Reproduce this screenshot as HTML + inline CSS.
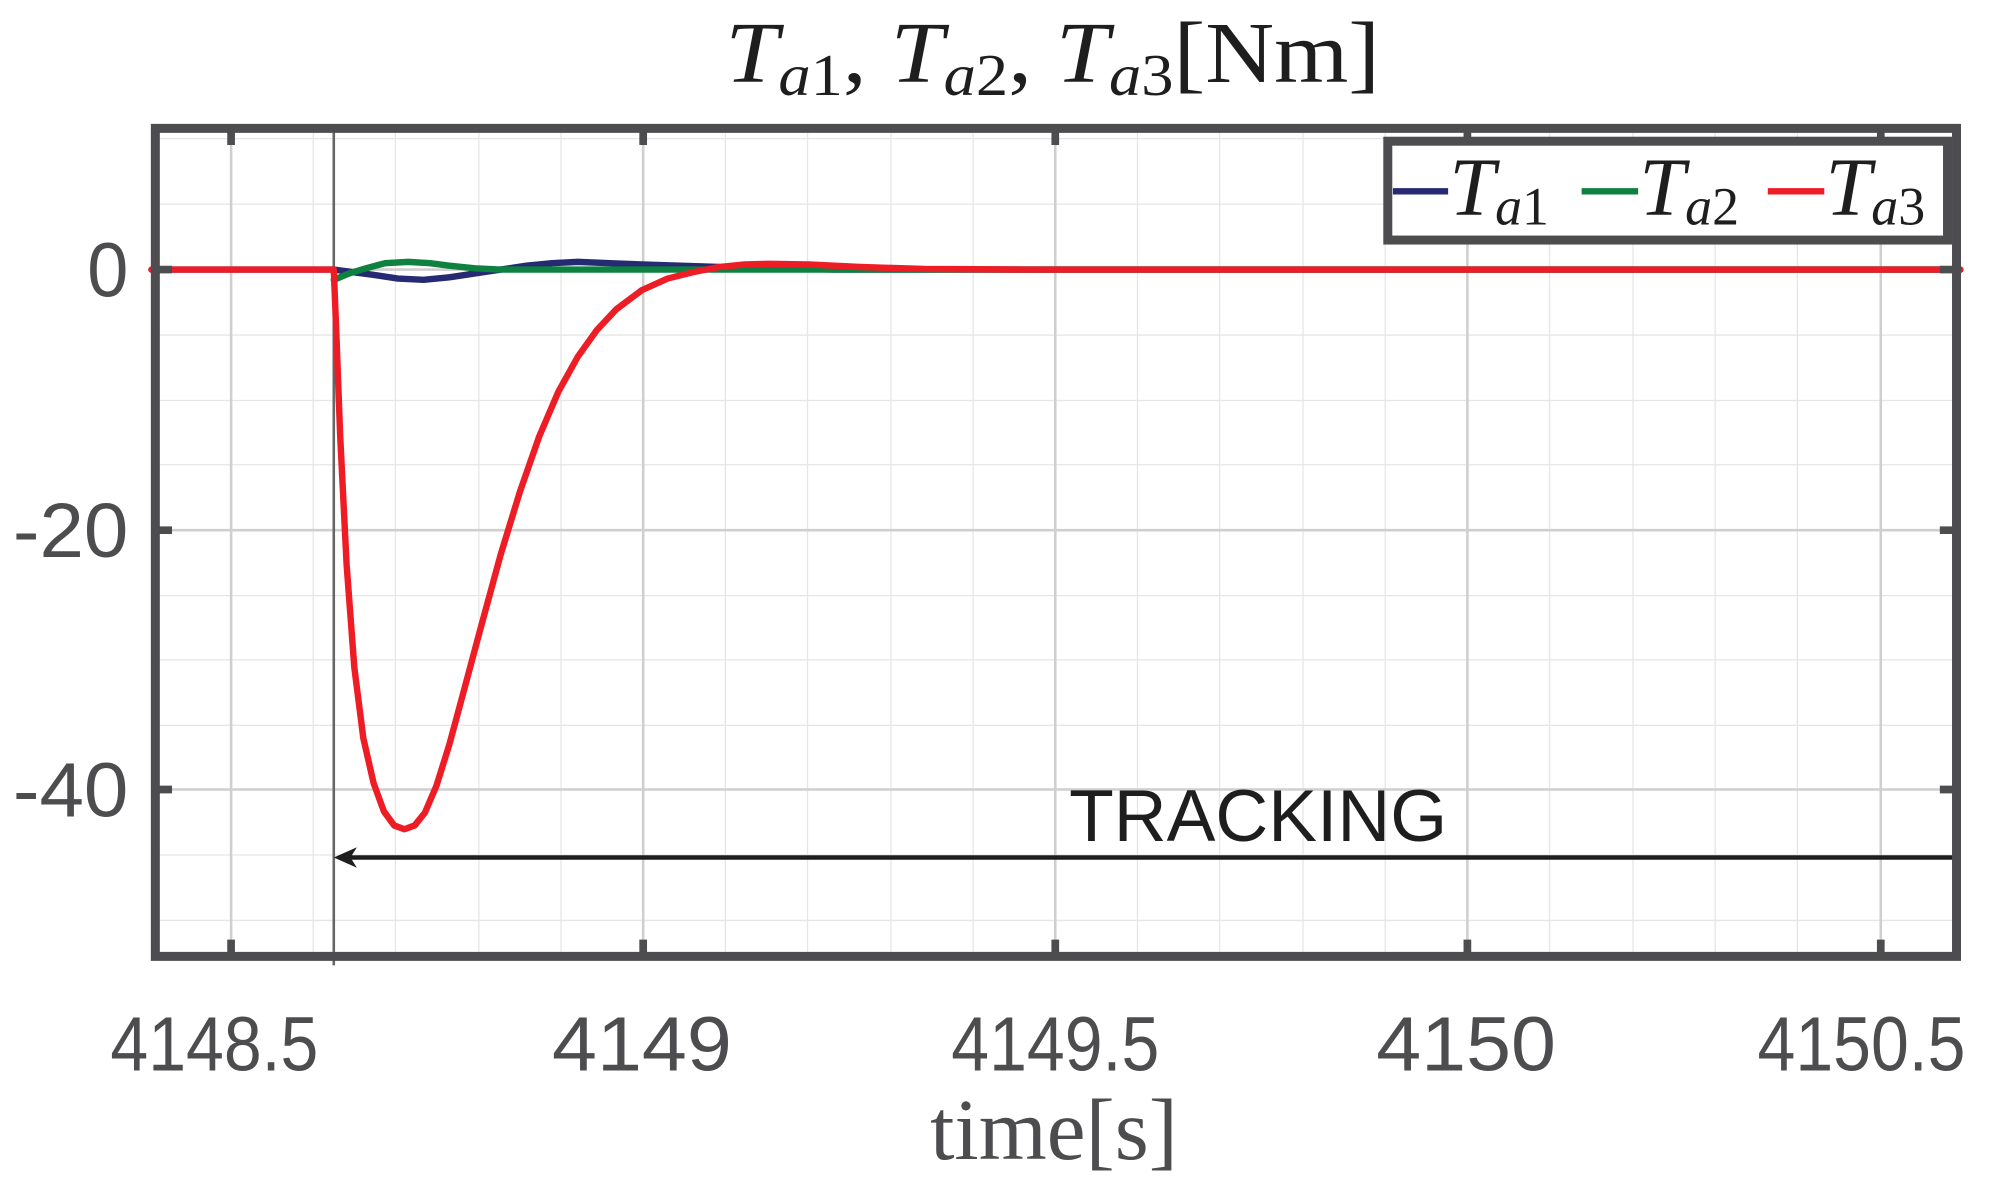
<!DOCTYPE html>
<html><head><meta charset="utf-8"><style>
html,body{margin:0;padding:0;background:#fff;}
svg{display:block;}
</style></head><body>
<svg width="2013" height="1199" viewBox="0 0 1568 934" preserveAspectRatio="none" xmlns="http://www.w3.org/2000/svg">
<rect width="1568" height="934" fill="#fff"/>
<g stroke="#e6e6e6" stroke-width="1">
<path d="M244,97V748M308,97V748M373,97V748M437,97V748M565,97V748M629,97V748M694,97V748M758,97V748M886,97V748M950,97V748M1015,97V748M1079,97V748M1207,97V748M1272,97V748M1336,97V748M1400,97V748"/>
<path d="M118,108H1527M118,159H1527M118,261H1527M118,312H1527M118,362H1527M118,464H1527M118,514H1527M118,565H1527M118,666H1527M118,717H1527"/>
</g>
<g stroke="#cfcfcf" stroke-width="2">
<path d="M180,97V748M501,97V748M822,97V748M1143,97V748M1465,97V748"/>
<path d="M118,210H1527M118,413H1527M118,615H1527"/>
</g>
<line x1="260" y1="97" x2="260" y2="752" stroke="#666" stroke-width="2"/>
<g fill="none" stroke-width="5" stroke-linejoin="round" stroke-linecap="round">
<polyline stroke="#262a73" points="118,210 260,210 275,212 290,214 310,217 330,218 350,216 370,213 390,210 410,207 430,205 450,204 475,205 500,206 530,207 560,208 600,209 650,210 1527,210"/>
<polyline stroke="#0e8040" points="260,218 272,213 285,209 300,205 318,204 335,205 350,207 370,209 390,210 1527,210"/>
<polyline stroke="#ee1c24" points="118,210 260,210 262,260 265,340 270,440 276,520 283,575 291,610 299,632 307,643 315,646 323,643 331,633 340,612 350,580 360,543 375,487 390,432 405,383 420,340 435,305 450,278 465,257 480,241 500,226 520,217 540,212 560,208 580,206 600,205.5 630,206 670,208 720,209.5 800,210 1527,210"/>
</g>
<line x1="1527" y1="668" x2="272" y2="668" stroke="#1e1e1e" stroke-width="3.5"/>
<polygon points="260,668 278,660 273,668 278,676" fill="#1e1e1e"/>
<text x="980" y="655" font-family="Liberation Sans, sans-serif" font-size="57" fill="#1e1e1e" text-anchor="middle">TRACKING</text>
<g stroke="#4d4d4f" stroke-width="6">
<path d="M180,100V113M501,100V113M822,100V113M1143,100V113M1465,100V113"/>
<path d="M180,745V732M501,745V732M822,745V732M1143,745V732M1465,745V732"/>
<path d="M121,210H134M121,413H134M121,615H134M1524,210H1511M1524,413H1511M1524,615H1511"/>
</g>
<rect x="121" y="100" width="1403" height="645" fill="none" stroke="#4d4d4f" stroke-width="7"/>
<rect x="1081" y="110" width="436" height="77" fill="#fff" stroke="#4d4d4f" stroke-width="7"/>
<g stroke-width="5">
<line x1="1085" y1="149" x2="1128" y2="149" stroke="#262a73"/>
<line x1="1232" y1="149" x2="1276" y2="149" stroke="#0e8040"/>
<line x1="1377" y1="149" x2="1421" y2="149" stroke="#ee1c24"/>
</g>
<g font-family="Liberation Serif, serif" fill="#1e1e1e">
<text x="1129" y="167" font-size="64" font-style="italic">T<tspan font-size="42" dy="8">a</tspan><tspan font-size="42" font-style="normal">1</tspan></text>
<text x="1277" y="167" font-size="64" font-style="italic">T<tspan font-size="42" dy="8">a</tspan><tspan font-size="42" font-style="normal">2</tspan></text>
<text x="1422" y="167" font-size="64" font-style="italic">T<tspan font-size="42" dy="8">a</tspan><tspan font-size="42" font-style="normal">3</tspan></text>
</g>
<text x="820" y="64" font-family="Liberation Serif, serif" font-size="68" fill="#1e1e1e" text-anchor="middle" textLength="510" lengthAdjust="spacingAndGlyphs"><tspan font-style="italic">T</tspan><tspan font-style="italic" font-size="46" dy="10">a</tspan><tspan font-size="46">1</tspan><tspan dy="-10">, </tspan><tspan font-style="italic">T</tspan><tspan font-style="italic" font-size="46" dy="10">a</tspan><tspan font-size="46">2</tspan><tspan dy="-10">, </tspan><tspan font-style="italic">T</tspan><tspan font-style="italic" font-size="46" dy="10">a</tspan><tspan font-size="46">3</tspan><tspan dy="-10">[Nm]</tspan></text>
<g font-family="Liberation Sans, sans-serif" font-size="60" fill="#4d4d4f" text-anchor="end">
<text x="100" y="231" textLength="32" lengthAdjust="spacingAndGlyphs">0</text>
<text x="100" y="434" textLength="90" lengthAdjust="spacingAndGlyphs">-20</text>
<text x="100" y="636" textLength="90" lengthAdjust="spacingAndGlyphs">-40</text>
</g>
<g font-family="Liberation Sans, sans-serif" font-size="60" fill="#4d4d4f" text-anchor="middle">
<text x="167" y="834" textLength="162" lengthAdjust="spacingAndGlyphs">4148.5</text>
<text x="500" y="834" textLength="140" lengthAdjust="spacingAndGlyphs">4149</text>
<text x="822" y="834" textLength="162" lengthAdjust="spacingAndGlyphs">4149.5</text>
<text x="1142" y="834" textLength="140" lengthAdjust="spacingAndGlyphs">4150</text>
<text x="1450" y="834" textLength="162" lengthAdjust="spacingAndGlyphs">4150.5</text>
</g>
<text x="821" y="903" font-family="Liberation Serif, serif" font-size="68" fill="#4d4d4f" text-anchor="middle" textLength="193" lengthAdjust="spacingAndGlyphs">time[s]</text>
</svg>
</body></html>
